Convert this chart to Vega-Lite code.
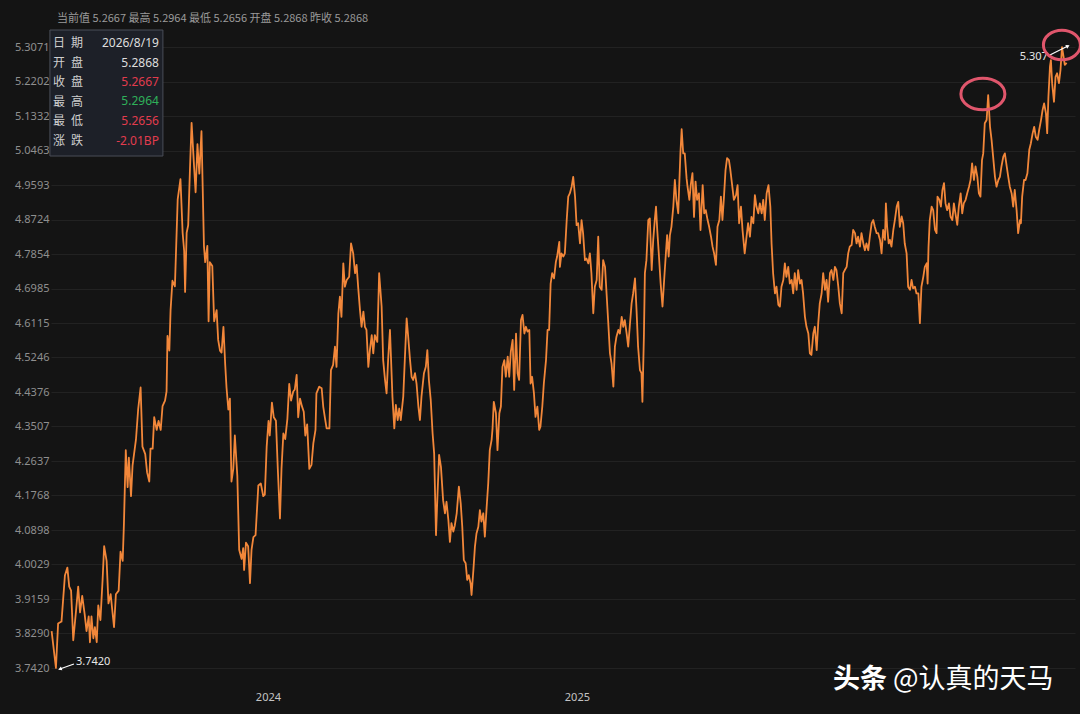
{
  "$schema": "https://vega.github.io/schema/vega-lite/v6.json",
  "autosize": "none",
  "width": 1024,
  "height": 655,
  "padding": {"left": 51, "top": 30, "right": 5, "bottom": 29},
  "background": "#141414",
  "config": {
    "view": {"stroke": null},
    "font": "Noto Sans CJK SC"
  },
  "title": {
    "text": "当前值 5.2667 最高 5.2964 最低 5.2656 开盘 5.2868 昨收 5.2868",
    "anchor": "start",
    "frame": "group",
    "dx": 6,
    "offset": 0,
    "fontSize": 11,
    "fontWeight": "normal",
    "color": "#9a9a9a"
  },
  "layer": [
    {
      "data": {
        "values": [
          {"year": 2023.300, "value": 3.835}, {"year": 2023.314, "value": 3.742}, {"year": 2023.321, "value": 3.854}, {"year": 2023.332, "value": 3.859},
          {"year": 2023.343, "value": 3.975}, {"year": 2023.351, "value": 3.995}, {"year": 2023.357, "value": 3.947}, {"year": 2023.363, "value": 3.937},
          {"year": 2023.370, "value": 3.812}, {"year": 2023.379, "value": 3.886}, {"year": 2023.386, "value": 3.947}, {"year": 2023.392, "value": 3.882},
          {"year": 2023.399, "value": 3.924}, {"year": 2023.407, "value": 3.877}, {"year": 2023.413, "value": 3.835}, {"year": 2023.420, "value": 3.872},
          {"year": 2023.424, "value": 3.807}, {"year": 2023.429, "value": 3.872}, {"year": 2023.435, "value": 3.817}, {"year": 2023.440, "value": 3.845},
          {"year": 2023.446, "value": 3.807}, {"year": 2023.451, "value": 3.900}, {"year": 2023.458, "value": 3.863}, {"year": 2023.465, "value": 3.965},
          {"year": 2023.470, "value": 4.049}, {"year": 2023.478, "value": 4.012}, {"year": 2023.484, "value": 3.905}, {"year": 2023.491, "value": 3.928},
          {"year": 2023.502, "value": 3.845}, {"year": 2023.508, "value": 3.928}, {"year": 2023.517, "value": 3.937}, {"year": 2023.523, "value": 4.035},
          {"year": 2023.530, "value": 4.012}, {"year": 2023.534, "value": 4.105}, {"year": 2023.540, "value": 4.291}, {"year": 2023.546, "value": 4.198},
          {"year": 2023.550, "value": 4.272}, {"year": 2023.557, "value": 4.175}, {"year": 2023.562, "value": 4.253}, {"year": 2023.573, "value": 4.318},
          {"year": 2023.580, "value": 4.393}, {"year": 2023.588, "value": 4.449}, {"year": 2023.594, "value": 4.300}, {"year": 2023.603, "value": 4.281},
          {"year": 2023.609, "value": 4.235}, {"year": 2023.616, "value": 4.212}, {"year": 2023.620, "value": 4.295}, {"year": 2023.627, "value": 4.295},
          {"year": 2023.632, "value": 4.374}, {"year": 2023.640, "value": 4.342}, {"year": 2023.646, "value": 4.365}, {"year": 2023.653, "value": 4.342},
          {"year": 2023.659, "value": 4.402}, {"year": 2023.667, "value": 4.416}, {"year": 2023.672, "value": 4.439}, {"year": 2023.675, "value": 4.579},
          {"year": 2023.681, "value": 4.542}, {"year": 2023.685, "value": 4.644}, {"year": 2023.691, "value": 4.718}, {"year": 2023.699, "value": 4.704},
          {"year": 2023.708, "value": 4.923}, {"year": 2023.717, "value": 4.974}, {"year": 2023.724, "value": 4.839}, {"year": 2023.729, "value": 4.793},
          {"year": 2023.732, "value": 4.690}, {"year": 2023.737, "value": 4.839}, {"year": 2023.742, "value": 4.858}, {"year": 2023.748, "value": 5.006},
          {"year": 2023.753, "value": 5.116}, {"year": 2023.761, "value": 5.006}, {"year": 2023.766, "value": 4.941}, {"year": 2023.772, "value": 5.062},
          {"year": 2023.778, "value": 4.988}, {"year": 2023.785, "value": 5.095}, {"year": 2023.793, "value": 4.806}, {"year": 2023.797, "value": 4.765},
          {"year": 2023.804, "value": 4.806}, {"year": 2023.808, "value": 4.616}, {"year": 2023.812, "value": 4.765}, {"year": 2023.820, "value": 4.755},
          {"year": 2023.826, "value": 4.616}, {"year": 2023.834, "value": 4.644}, {"year": 2023.839, "value": 4.569}, {"year": 2023.845, "value": 4.542},
          {"year": 2023.850, "value": 4.537}, {"year": 2023.856, "value": 4.602}, {"year": 2023.862, "value": 4.504}, {"year": 2023.866, "value": 4.449},
          {"year": 2023.872, "value": 4.393}, {"year": 2023.877, "value": 4.421}, {"year": 2023.882, "value": 4.212}, {"year": 2023.888, "value": 4.244},
          {"year": 2023.893, "value": 4.328}, {"year": 2023.901, "value": 4.226}, {"year": 2023.907, "value": 4.040}, {"year": 2023.915, "value": 4.017},
          {"year": 2023.920, "value": 4.044}, {"year": 2023.923, "value": 3.989}, {"year": 2023.929, "value": 4.058}, {"year": 2023.936, "value": 4.049},
          {"year": 2023.942, "value": 3.956}, {"year": 2023.947, "value": 4.040}, {"year": 2023.953, "value": 4.072}, {"year": 2023.960, "value": 4.077},
          {"year": 2023.969, "value": 4.202}, {"year": 2023.977, "value": 4.207}, {"year": 2023.985, "value": 4.175}, {"year": 2023.990, "value": 4.179},
          {"year": 2023.996, "value": 4.300}, {"year": 2024.002, "value": 4.365}, {"year": 2024.006, "value": 4.328}, {"year": 2024.013, "value": 4.411},
          {"year": 2024.019, "value": 4.374}, {"year": 2024.026, "value": 4.365}, {"year": 2024.032, "value": 4.244}, {"year": 2024.039, "value": 4.119},
          {"year": 2024.044, "value": 4.244}, {"year": 2024.050, "value": 4.333}, {"year": 2024.056, "value": 4.319}, {"year": 2024.063, "value": 4.370},
          {"year": 2024.069, "value": 4.458}, {"year": 2024.075, "value": 4.416}, {"year": 2024.082, "value": 4.439}, {"year": 2024.087, "value": 4.444},
          {"year": 2024.093, "value": 4.481}, {"year": 2024.098, "value": 4.374}, {"year": 2024.104, "value": 4.421}, {"year": 2024.110, "value": 4.402},
          {"year": 2024.116, "value": 4.388}, {"year": 2024.121, "value": 4.328}, {"year": 2024.127, "value": 4.356}, {"year": 2024.134, "value": 4.244},
          {"year": 2024.141, "value": 4.254}, {"year": 2024.147, "value": 4.308}, {"year": 2024.154, "value": 4.342}, {"year": 2024.157, "value": 4.434},
          {"year": 2024.166, "value": 4.451}, {"year": 2024.174, "value": 4.447}, {"year": 2024.179, "value": 4.401}, {"year": 2024.184, "value": 4.375},
          {"year": 2024.190, "value": 4.346}, {"year": 2024.199, "value": 4.346}, {"year": 2024.204, "value": 4.493}, {"year": 2024.211, "value": 4.506},
          {"year": 2024.217, "value": 4.552}, {"year": 2024.222, "value": 4.501}, {"year": 2024.228, "value": 4.636}, {"year": 2024.233, "value": 4.678},
          {"year": 2024.238, "value": 4.627}, {"year": 2024.244, "value": 4.762}, {"year": 2024.249, "value": 4.703}, {"year": 2024.255, "value": 4.720},
          {"year": 2024.263, "value": 4.728}, {"year": 2024.269, "value": 4.812}, {"year": 2024.276, "value": 4.787}, {"year": 2024.282, "value": 4.737},
          {"year": 2024.287, "value": 4.758}, {"year": 2024.292, "value": 4.703}, {"year": 2024.298, "value": 4.644}, {"year": 2024.303, "value": 4.602},
          {"year": 2024.309, "value": 4.640}, {"year": 2024.314, "value": 4.602}, {"year": 2024.319, "value": 4.594}, {"year": 2024.325, "value": 4.501},
          {"year": 2024.330, "value": 4.543}, {"year": 2024.336, "value": 4.581}, {"year": 2024.341, "value": 4.535}, {"year": 2024.346, "value": 4.581},
          {"year": 2024.354, "value": 4.564}, {"year": 2024.360, "value": 4.737}, {"year": 2024.368, "value": 4.653}, {"year": 2024.373, "value": 4.518},
          {"year": 2024.379, "value": 4.468}, {"year": 2024.384, "value": 4.434}, {"year": 2024.389, "value": 4.518}, {"year": 2024.395, "value": 4.594},
          {"year": 2024.403, "value": 4.426}, {"year": 2024.409, "value": 4.346}, {"year": 2024.414, "value": 4.405}, {"year": 2024.420, "value": 4.367},
          {"year": 2024.425, "value": 4.396}, {"year": 2024.430, "value": 4.367}, {"year": 2024.438, "value": 4.426}, {"year": 2024.443, "value": 4.518},
          {"year": 2024.449, "value": 4.623}, {"year": 2024.454, "value": 4.577}, {"year": 2024.460, "value": 4.518}, {"year": 2024.465, "value": 4.476},
          {"year": 2024.470, "value": 4.468}, {"year": 2024.476, "value": 4.485}, {"year": 2024.481, "value": 4.459}, {"year": 2024.487, "value": 4.401},
          {"year": 2024.492, "value": 4.367}, {"year": 2024.497, "value": 4.426}, {"year": 2024.505, "value": 4.485}, {"year": 2024.511, "value": 4.501},
          {"year": 2024.516, "value": 4.543}, {"year": 2024.521, "value": 4.468}, {"year": 2024.527, "value": 4.417}, {"year": 2024.533, "value": 4.333},
          {"year": 2024.538, "value": 4.283}, {"year": 2024.544, "value": 4.077}, {"year": 2024.549, "value": 4.182}, {"year": 2024.554, "value": 4.279},
          {"year": 2024.560, "value": 4.249}, {"year": 2024.567, "value": 4.165}, {"year": 2024.573, "value": 4.132}, {"year": 2024.578, "value": 4.161},
          {"year": 2024.584, "value": 4.115}, {"year": 2024.589, "value": 4.060}, {"year": 2024.594, "value": 4.107}, {"year": 2024.600, "value": 4.086},
          {"year": 2024.605, "value": 4.102}, {"year": 2024.611, "value": 4.132}, {"year": 2024.618, "value": 4.199}, {"year": 2024.624, "value": 4.157},
          {"year": 2024.629, "value": 4.098}, {"year": 2024.634, "value": 4.014}, {"year": 2024.640, "value": 4.006}, {"year": 2024.645, "value": 3.964},
          {"year": 2024.650, "value": 3.976}, {"year": 2024.656, "value": 3.955}, {"year": 2024.659, "value": 3.926}, {"year": 2024.665, "value": 3.989},
          {"year": 2024.670, "value": 4.048}, {"year": 2024.675, "value": 4.081}, {"year": 2024.681, "value": 4.098}, {"year": 2024.686, "value": 4.140},
          {"year": 2024.691, "value": 4.111}, {"year": 2024.697, "value": 4.132}, {"year": 2024.702, "value": 4.073}, {"year": 2024.708, "value": 4.149},
          {"year": 2024.713, "value": 4.207}, {"year": 2024.718, "value": 4.291}, {"year": 2024.724, "value": 4.317}, {"year": 2024.727, "value": 4.346},
          {"year": 2024.731, "value": 4.413}, {"year": 2024.738, "value": 4.384}, {"year": 2024.743, "value": 4.291}, {"year": 2024.749, "value": 4.384},
          {"year": 2024.754, "value": 4.401}, {"year": 2024.759, "value": 4.501}, {"year": 2024.765, "value": 4.518}, {"year": 2024.770, "value": 4.476},
          {"year": 2024.776, "value": 4.527}, {"year": 2024.781, "value": 4.476}, {"year": 2024.786, "value": 4.539}, {"year": 2024.792, "value": 4.569},
          {"year": 2024.797, "value": 4.443}, {"year": 2024.803, "value": 4.585}, {"year": 2024.808, "value": 4.485}, {"year": 2024.813, "value": 4.468},
          {"year": 2024.819, "value": 4.619}, {"year": 2024.824, "value": 4.632}, {"year": 2024.830, "value": 4.585}, {"year": 2024.835, "value": 4.602},
          {"year": 2024.840, "value": 4.590}, {"year": 2024.846, "value": 4.594}, {"year": 2024.850, "value": 4.459}, {"year": 2024.855, "value": 4.476},
          {"year": 2024.861, "value": 4.434}, {"year": 2024.866, "value": 4.375}, {"year": 2024.872, "value": 4.401}, {"year": 2024.878, "value": 4.342},
          {"year": 2024.882, "value": 4.350}, {"year": 2024.888, "value": 4.401}, {"year": 2024.893, "value": 4.459}, {"year": 2024.900, "value": 4.518},
          {"year": 2024.905, "value": 4.594}, {"year": 2024.910, "value": 4.594}, {"year": 2024.915, "value": 4.711}, {"year": 2024.920, "value": 4.737},
          {"year": 2024.926, "value": 4.724}, {"year": 2024.932, "value": 4.766}, {"year": 2024.936, "value": 4.779}, {"year": 2024.943, "value": 4.816},
          {"year": 2024.945, "value": 4.753}, {"year": 2024.950, "value": 4.787}, {"year": 2024.956, "value": 4.779}, {"year": 2024.961, "value": 4.787},
          {"year": 2024.967, "value": 4.871}, {"year": 2024.972, "value": 4.930}, {"year": 2024.977, "value": 4.938}, {"year": 2024.983, "value": 4.955},
          {"year": 2024.988, "value": 4.980}, {"year": 2024.994, "value": 4.930}, {"year": 2024.999, "value": 4.858}, {"year": 2025.004, "value": 4.863},
          {"year": 2025.010, "value": 4.812}, {"year": 2025.015, "value": 4.871}, {"year": 2025.020, "value": 4.838}, {"year": 2025.026, "value": 4.770},
          {"year": 2025.031, "value": 4.774}, {"year": 2025.037, "value": 4.762}, {"year": 2025.042, "value": 4.787}, {"year": 2025.047, "value": 4.737},
          {"year": 2025.053, "value": 4.636}, {"year": 2025.058, "value": 4.703}, {"year": 2025.064, "value": 4.720}, {"year": 2025.069, "value": 4.829},
          {"year": 2025.074, "value": 4.703}, {"year": 2025.080, "value": 4.695}, {"year": 2025.085, "value": 4.770}, {"year": 2025.091, "value": 4.753},
          {"year": 2025.096, "value": 4.686}, {"year": 2025.101, "value": 4.619}, {"year": 2025.107, "value": 4.535}, {"year": 2025.112, "value": 4.510},
          {"year": 2025.118, "value": 4.451}, {"year": 2025.123, "value": 4.552}, {"year": 2025.128, "value": 4.577}, {"year": 2025.134, "value": 4.594},
          {"year": 2025.139, "value": 4.585}, {"year": 2025.145, "value": 4.627}, {"year": 2025.150, "value": 4.602}, {"year": 2025.155, "value": 4.619},
          {"year": 2025.161, "value": 4.585}, {"year": 2025.166, "value": 4.552}, {"year": 2025.171, "value": 4.602}, {"year": 2025.177, "value": 4.661},
          {"year": 2025.182, "value": 4.686}, {"year": 2025.188, "value": 4.724}, {"year": 2025.193, "value": 4.644}, {"year": 2025.198, "value": 4.552},
          {"year": 2025.204, "value": 4.493}, {"year": 2025.209, "value": 4.485}, {"year": 2025.212, "value": 4.413}, {"year": 2025.217, "value": 4.585},
          {"year": 2025.220, "value": 4.737}, {"year": 2025.225, "value": 4.770}, {"year": 2025.231, "value": 4.871}, {"year": 2025.236, "value": 4.875},
          {"year": 2025.242, "value": 4.745}, {"year": 2025.247, "value": 4.821}, {"year": 2025.252, "value": 4.871}, {"year": 2025.256, "value": 4.905},
          {"year": 2025.260, "value": 4.846}, {"year": 2025.265, "value": 4.787}, {"year": 2025.271, "value": 4.711}, {"year": 2025.277, "value": 4.653},
          {"year": 2025.283, "value": 4.728}, {"year": 2025.288, "value": 4.787}, {"year": 2025.292, "value": 4.833}, {"year": 2025.297, "value": 4.779},
          {"year": 2025.301, "value": 4.833}, {"year": 2025.306, "value": 4.854}, {"year": 2025.312, "value": 4.905}, {"year": 2025.317, "value": 4.972},
          {"year": 2025.322, "value": 4.922}, {"year": 2025.328, "value": 4.888}, {"year": 2025.331, "value": 4.955}, {"year": 2025.335, "value": 5.039},
          {"year": 2025.339, "value": 5.100}, {"year": 2025.344, "value": 5.039}, {"year": 2025.349, "value": 5.039}, {"year": 2025.355, "value": 4.976},
          {"year": 2025.358, "value": 4.955}, {"year": 2025.364, "value": 4.922}, {"year": 2025.369, "value": 4.963}, {"year": 2025.374, "value": 4.989},
          {"year": 2025.379, "value": 4.879}, {"year": 2025.384, "value": 4.968}, {"year": 2025.389, "value": 4.922}, {"year": 2025.395, "value": 4.938},
          {"year": 2025.400, "value": 4.846}, {"year": 2025.407, "value": 4.959}, {"year": 2025.412, "value": 4.888}, {"year": 2025.417, "value": 4.896},
          {"year": 2025.423, "value": 4.871}, {"year": 2025.428, "value": 4.854}, {"year": 2025.434, "value": 4.829}, {"year": 2025.439, "value": 4.804},
          {"year": 2025.444, "value": 4.787}, {"year": 2025.450, "value": 4.758}, {"year": 2025.455, "value": 4.854}, {"year": 2025.461, "value": 4.871},
          {"year": 2025.466, "value": 4.930}, {"year": 2025.471, "value": 4.871}, {"year": 2025.476, "value": 4.930}, {"year": 2025.481, "value": 4.997},
          {"year": 2025.486, "value": 5.027}, {"year": 2025.492, "value": 5.022}, {"year": 2025.496, "value": 5.001}, {"year": 2025.503, "value": 4.955},
          {"year": 2025.508, "value": 4.922}, {"year": 2025.515, "value": 4.934}, {"year": 2025.520, "value": 4.959}, {"year": 2025.525, "value": 4.863},
          {"year": 2025.531, "value": 4.905}, {"year": 2025.536, "value": 4.846}, {"year": 2025.543, "value": 4.787}, {"year": 2025.549, "value": 4.829},
          {"year": 2025.554, "value": 4.863}, {"year": 2025.560, "value": 4.829}, {"year": 2025.565, "value": 4.879}, {"year": 2025.571, "value": 4.863},
          {"year": 2025.576, "value": 4.934}, {"year": 2025.581, "value": 4.905}, {"year": 2025.587, "value": 4.888}, {"year": 2025.592, "value": 4.913},
          {"year": 2025.598, "value": 4.888}, {"year": 2025.603, "value": 4.922}, {"year": 2025.608, "value": 4.871}, {"year": 2025.614, "value": 4.938},
          {"year": 2025.620, "value": 4.959}, {"year": 2025.626, "value": 4.905}, {"year": 2025.630, "value": 4.812}, {"year": 2025.635, "value": 4.737},
          {"year": 2025.641, "value": 4.686}, {"year": 2025.646, "value": 4.703}, {"year": 2025.652, "value": 4.657}, {"year": 2025.657, "value": 4.653},
          {"year": 2025.662, "value": 4.703}, {"year": 2025.668, "value": 4.720}, {"year": 2025.673, "value": 4.762}, {"year": 2025.678, "value": 4.728},
          {"year": 2025.684, "value": 4.753}, {"year": 2025.689, "value": 4.711}, {"year": 2025.695, "value": 4.720}, {"year": 2025.700, "value": 4.686},
          {"year": 2025.705, "value": 4.737}, {"year": 2025.711, "value": 4.695}, {"year": 2025.716, "value": 4.745}, {"year": 2025.722, "value": 4.711},
          {"year": 2025.727, "value": 4.720}, {"year": 2025.732, "value": 4.686}, {"year": 2025.738, "value": 4.627}, {"year": 2025.743, "value": 4.602},
          {"year": 2025.749, "value": 4.585}, {"year": 2025.754, "value": 4.535}, {"year": 2025.759, "value": 4.531}, {"year": 2025.765, "value": 4.585},
          {"year": 2025.770, "value": 4.602}, {"year": 2025.776, "value": 4.543}, {"year": 2025.781, "value": 4.611}, {"year": 2025.786, "value": 4.661},
          {"year": 2025.792, "value": 4.686}, {"year": 2025.797, "value": 4.737}, {"year": 2025.803, "value": 4.695}, {"year": 2025.808, "value": 4.720},
          {"year": 2025.813, "value": 4.665}, {"year": 2025.819, "value": 4.737}, {"year": 2025.824, "value": 4.745}, {"year": 2025.830, "value": 4.720},
          {"year": 2025.835, "value": 4.753}, {"year": 2025.840, "value": 4.745}, {"year": 2025.846, "value": 4.703}, {"year": 2025.851, "value": 4.661},
          {"year": 2025.857, "value": 4.636}, {"year": 2025.862, "value": 4.737}, {"year": 2025.867, "value": 4.745}, {"year": 2025.873, "value": 4.753},
          {"year": 2025.878, "value": 4.787}, {"year": 2025.883, "value": 4.804}, {"year": 2025.889, "value": 4.808}, {"year": 2025.894, "value": 4.846},
          {"year": 2025.900, "value": 4.838}, {"year": 2025.905, "value": 4.812}, {"year": 2025.910, "value": 4.829}, {"year": 2025.916, "value": 4.804},
          {"year": 2025.921, "value": 4.838}, {"year": 2025.927, "value": 4.812}, {"year": 2025.932, "value": 4.795}, {"year": 2025.937, "value": 4.812},
          {"year": 2025.943, "value": 4.795}, {"year": 2025.948, "value": 4.829}, {"year": 2025.954, "value": 4.863}, {"year": 2025.959, "value": 4.871},
          {"year": 2025.964, "value": 4.854}, {"year": 2025.970, "value": 4.838}, {"year": 2025.975, "value": 4.838}, {"year": 2025.981, "value": 4.821},
          {"year": 2025.986, "value": 4.787}, {"year": 2025.991, "value": 4.846}, {"year": 2025.997, "value": 4.821}, {"year": 2026.000, "value": 4.913},
          {"year": 2026.004, "value": 4.854}, {"year": 2026.009, "value": 4.812}, {"year": 2026.013, "value": 4.821}, {"year": 2026.018, "value": 4.804},
          {"year": 2026.024, "value": 4.846}, {"year": 2026.029, "value": 4.871}, {"year": 2026.035, "value": 4.905}, {"year": 2026.040, "value": 4.917},
          {"year": 2026.045, "value": 4.854}, {"year": 2026.051, "value": 4.880}, {"year": 2026.056, "value": 4.863}, {"year": 2026.061, "value": 4.812},
          {"year": 2026.067, "value": 4.787}, {"year": 2026.072, "value": 4.703}, {"year": 2026.078, "value": 4.695}, {"year": 2026.083, "value": 4.720},
          {"year": 2026.088, "value": 4.699}, {"year": 2026.094, "value": 4.703}, {"year": 2026.099, "value": 4.686}, {"year": 2026.105, "value": 4.686},
          {"year": 2026.110, "value": 4.611}, {"year": 2026.115, "value": 4.703}, {"year": 2026.121, "value": 4.728}, {"year": 2026.126, "value": 4.753},
          {"year": 2026.132, "value": 4.762}, {"year": 2026.135, "value": 4.711}, {"year": 2026.138, "value": 4.804}, {"year": 2026.142, "value": 4.871},
          {"year": 2026.148, "value": 4.905}, {"year": 2026.153, "value": 4.896}, {"year": 2026.159, "value": 4.846}, {"year": 2026.164, "value": 4.838},
          {"year": 2026.167, "value": 4.930}, {"year": 2026.173, "value": 4.922}, {"year": 2026.178, "value": 4.905}, {"year": 2026.183, "value": 4.947},
          {"year": 2026.188, "value": 4.964}, {"year": 2026.193, "value": 4.913}, {"year": 2026.198, "value": 4.896}, {"year": 2026.204, "value": 4.913},
          {"year": 2026.209, "value": 4.880}, {"year": 2026.215, "value": 4.871}, {"year": 2026.220, "value": 4.913}, {"year": 2026.225, "value": 4.888},
          {"year": 2026.231, "value": 4.859}, {"year": 2026.236, "value": 4.905}, {"year": 2026.242, "value": 4.938}, {"year": 2026.247, "value": 4.888},
          {"year": 2026.252, "value": 4.913}, {"year": 2026.258, "value": 4.922}, {"year": 2026.263, "value": 4.938}, {"year": 2026.269, "value": 4.955},
          {"year": 2026.274, "value": 4.972}, {"year": 2026.279, "value": 5.014}, {"year": 2026.285, "value": 4.972}, {"year": 2026.290, "value": 5.006},
          {"year": 2026.296, "value": 4.980}, {"year": 2026.301, "value": 4.938}, {"year": 2026.306, "value": 4.930}, {"year": 2026.311, "value": 5.022},
          {"year": 2026.315, "value": 5.039}, {"year": 2026.320, "value": 5.115}, {"year": 2026.326, "value": 5.123}, {"year": 2026.331, "value": 5.186},
          {"year": 2026.337, "value": 5.106}, {"year": 2026.342, "value": 5.073}, {"year": 2026.347, "value": 5.031}, {"year": 2026.353, "value": 4.980},
          {"year": 2026.358, "value": 4.955}, {"year": 2026.364, "value": 4.972}, {"year": 2026.369, "value": 4.980}, {"year": 2026.374, "value": 5.006},
          {"year": 2026.380, "value": 5.031}, {"year": 2026.385, "value": 5.039}, {"year": 2026.391, "value": 5.006}, {"year": 2026.396, "value": 4.980},
          {"year": 2026.401, "value": 4.955}, {"year": 2026.407, "value": 4.938}, {"year": 2026.412, "value": 4.905}, {"year": 2026.417, "value": 4.947},
          {"year": 2026.423, "value": 4.896}, {"year": 2026.428, "value": 4.838}, {"year": 2026.434, "value": 4.871}, {"year": 2026.437, "value": 4.863},
          {"year": 2026.441, "value": 4.930}, {"year": 2026.447, "value": 4.972}, {"year": 2026.452, "value": 4.972}, {"year": 2026.458, "value": 4.989},
          {"year": 2026.464, "value": 5.048}, {"year": 2026.469, "value": 5.064}, {"year": 2026.475, "value": 5.090}, {"year": 2026.480, "value": 5.106},
          {"year": 2026.485, "value": 5.081}, {"year": 2026.491, "value": 5.073}, {"year": 2026.496, "value": 5.098}, {"year": 2026.502, "value": 5.123},
          {"year": 2026.507, "value": 5.148}, {"year": 2026.512, "value": 5.165}, {"year": 2026.518, "value": 5.140}, {"year": 2026.522, "value": 5.090},
          {"year": 2026.526, "value": 5.182}, {"year": 2026.531, "value": 5.258}, {"year": 2026.534, "value": 5.274}, {"year": 2026.538, "value": 5.216},
          {"year": 2026.544, "value": 5.169}, {"year": 2026.549, "value": 5.232}, {"year": 2026.554, "value": 5.241}, {"year": 2026.560, "value": 5.216},
          {"year": 2026.565, "value": 5.249}, {"year": 2026.570, "value": 5.307}, {"year": 2026.574, "value": 5.287}, {"year": 2026.579, "value": 5.262},
          {"year": 2026.585, "value": 5.267}
        ]
      },
      "mark": {"type": "line", "color": "#f2873a", "strokeWidth": 1.8, "strokeJoin": "round"},
      "encoding": {
        "x": {
          "field": "year",
          "type": "quantitative",
          "scale": {"domain": [2023.298, 2026.612], "nice": false, "zero": false},
          "axis": {
            "title": null,
            "values": [2024, 2025],
            "format": "d",
            "grid": false,
            "domain": false,
            "ticks": false,
            "labelColor": "#c4c4c4",
            "labelFontSize": 11,
            "labelPadding": 6,
            "labelFont": "Noto Sans"
          }
        },
        "y": {
          "field": "value",
          "type": "quantitative",
          "scale": {"domain": [3.6992, 5.35], "nice": false, "zero": false},
          "axis": {
            "title": null,
            "values": [3.742, 3.829, 3.9159, 4.0029, 4.0898, 4.1768, 4.2637, 4.3507, 4.4376, 4.5246, 4.6115, 4.6985, 4.7854, 4.8724, 4.9593, 5.0463, 5.1332, 5.2202, 5.3071],
            "tickCount": 40,
            "format": ".4f",
            "grid": true,
            "gridColor": "#222222",
            "gridWidth": 1,
            "domain": false,
            "ticks": false,
            "labelColor": "#8f8f8f",
            "labelFontSize": 11,
            "labelPadding": 2,
            "labelOverlap": false,
            "labelFont": "Noto Sans"
          }
        }
      }
    },
    {
      "data": {"values": [{}]},
      "mark": {"type": "rect", "fill": "#1d2028", "stroke": "#4a4e58", "strokeWidth": 1},
      "encoding": {
        "x": {"datum": 2023.2945, "type": "quantitative"},
        "x2": {"datum": 2023.6602},
        "y": {"datum": 5.35, "type": "quantitative"},
        "y2": {"datum": 5.0324}
      }
    },
    {
      "data": {"values": [{}]},
      "mark": {"type": "text", "align": "left", "baseline": "alphabetic", "fontSize": 12, "lineHeight": 19.6, "color": "#cfcfcf",
        "text": ["日\u2002期", "开\u2002盘", "收\u2002盘", "最\u2002高", "最\u2002低", "涨\u2002跌"]},
      "encoding": {
        "x": {"datum": 2023.3042, "type": "quantitative"},
        "y": {"datum": 5.3071, "type": "quantitative"}
      }
    },
    {
      "data": {"values": [{}]},
      "mark": {"type": "text", "align": "right", "baseline": "alphabetic", "fontSize": 12, "lineHeight": 19.6, "color": "#dedede", "font": "Noto Sans",
        "text": ["2026/8/19", "5.2868"]},
      "encoding": {
        "x": {"datum": 2023.6472, "type": "quantitative"},
        "y": {"datum": 5.3071, "type": "quantitative"}
      }
    },
    {
      "data": {"values": [{}]},
      "mark": {"type": "text", "align": "right", "baseline": "alphabetic", "fontSize": 12, "color": "#e23c4e", "font": "Noto Sans", "text": "5.2667"},
      "encoding": {
        "x": {"datum": 2023.6472, "type": "quantitative"},
        "y": {"datum": 5.2088, "type": "quantitative"}
      }
    },
    {
      "data": {"values": [{}]},
      "mark": {"type": "text", "align": "right", "baseline": "alphabetic", "fontSize": 12, "color": "#2fb15a", "font": "Noto Sans", "text": "5.2964"},
      "encoding": {
        "x": {"datum": 2023.6472, "type": "quantitative"},
        "y": {"datum": 5.1609, "type": "quantitative"}
      }
    },
    {
      "data": {"values": [{}]},
      "mark": {"type": "text", "align": "right", "baseline": "alphabetic", "fontSize": 12, "lineHeight": 19.6, "color": "#e23c4e", "font": "Noto Sans",
        "text": ["5.2656", "-2.01BP"]},
      "encoding": {
        "x": {"datum": 2023.6472, "type": "quantitative"},
        "y": {"datum": 5.1105, "type": "quantitative"}
      }
    },
    {
      "data": {"values": [{}]},
      "mark": {"type": "rule", "color": "#ffffff", "strokeWidth": 1.2},
      "encoding": {
        "x": {"datum": 2023.3269, "type": "quantitative"},
        "y": {"datum": 3.7395, "type": "quantitative"},
        "x2": {"datum": 2023.3722},
        "y2": {"datum": 3.7521}
      }
    },
    {
      "data": {"values": [{}]},
      "mark": {"type": "point", "shape": "triangle-up", "filled": true, "color": "#ffffff", "size": 18, "angle": 250, "opacity": 1},
      "encoding": {
        "x": {"datum": 2023.3269, "type": "quantitative"},
        "y": {"datum": 3.7395, "type": "quantitative"}
      }
    },
    {
      "data": {"values": [{}]},
      "mark": {"type": "text", "align": "left", "baseline": "middle", "fontSize": 11, "color": "#e6e6e6", "font": "Noto Sans", "text": "3.7420"},
      "encoding": {
        "x": {"datum": 2023.3786, "type": "quantitative"},
        "y": {"datum": 3.7571, "type": "quantitative"}
      }
    },
    {
      "data": {"values": [{}]},
      "mark": {"type": "rule", "color": "#ffffff", "strokeWidth": 1.2},
      "encoding": {
        "x": {"datum": 2026.5307, "type": "quantitative"},
        "y": {"datum": 5.287, "type": "quantitative"},
        "x2": {"datum": 2026.589},
        "y2": {"datum": 5.3096}
      }
    },
    {
      "data": {"values": [{}]},
      "mark": {"type": "point", "shape": "triangle-up", "filled": true, "color": "#ffffff", "size": 18, "angle": 63, "opacity": 1},
      "encoding": {
        "x": {"datum": 2026.589, "type": "quantitative"},
        "y": {"datum": 5.3096, "type": "quantitative"}
      }
    },
    {
      "data": {"values": [{}]},
      "mark": {"type": "text", "align": "right", "baseline": "middle", "fontSize": 11, "color": "#e6e6e6", "font": "Noto Sans", "text": "5.307"},
      "encoding": {
        "x": {"datum": 2026.5243, "type": "quantitative"},
        "y": {"datum": 5.2819, "type": "quantitative"}
      }
    },
    {
      "data": {"values": [{}]},
      "mark": {"type": "point", "shape": "M -1 0 A 1 0.72 0 1 1 1 0 A 1 0.72 0 1 1 -1 0 Z", "filled": false, "color": "#e0566c", "strokeWidth": 3, "size": 1936, "opacity": 1},
      "encoding": {
        "x": {"datum": 2026.3139, "type": "quantitative"},
        "y": {"datum": 5.1887, "type": "quantitative"}
      }
    },
    {
      "data": {"values": [{}]},
      "mark": {"type": "point", "shape": "M -1 0 A 1 0.8 0 1 1 1 0 A 1 0.8 0 1 1 -1 0 Z", "filled": false, "color": "#e0566c", "strokeWidth": 3, "size": 1369, "opacity": 1},
      "encoding": {
        "x": {"datum": 2026.5696, "type": "quantitative"},
        "y": {"datum": 5.3122, "type": "quantitative"}
      }
    },
    {
      "data": {"values": [{}]},
      "mark": {"type": "text", "align": "left", "baseline": "middle", "fontSize": 27, "fontWeight": "bold", "color": "#ffffff", "text": "头条"},
      "encoding": {
        "x": {"datum": 2025.8285, "type": "quantitative"},
        "y": {"datum": 3.7118, "type": "quantitative"}
      }
    },
    {
      "data": {"values": [{}]},
      "mark": {"type": "text", "align": "left", "baseline": "middle", "fontSize": 27, "color": "#ffffff", "text": "@认真的天马"},
      "encoding": {
        "x": {"datum": 2026.0227, "type": "quantitative"},
        "y": {"datum": 3.7118, "type": "quantitative"}
      }
    }
  ]
}
